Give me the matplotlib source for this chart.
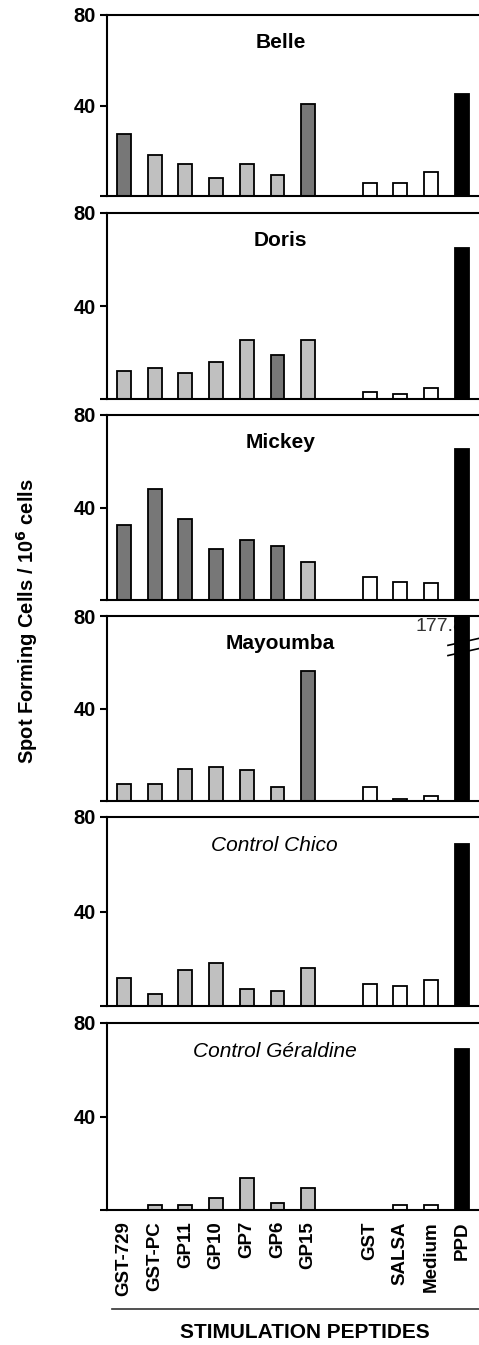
import matplotlib.pyplot as plt
from matplotlib.lines import Line2D

plt.rcParams['font.family'] = ['Liberation Sans', 'DejaVu Sans']

peptides = ['GST-729', 'GST-PC', 'GP11', 'GP10', 'GP7', 'GP6', 'GP15',
            'GST', 'SALSA', 'Medium', 'PPD']
positions = [0, 1, 2, 3, 4, 5, 6, 8, 9, 10, 11]

titles = ['Belle', 'Doris', 'Mickey', 'Mayoumba', 'Control Chico', 'Control Géraldine']

belle = [27.2, 18.0, 14.3, 7.8, 14.3, 9.4, 40.6, 5.7, 5.7, 10.7, 45.0]
doris = [11.9, 13.3, 11.2, 15.9, 25.2, 18.9, 25.2, 2.9, 2.2, 4.7, 65.1]
mickey = [32.3, 47.8, 35.2, 21.9, 25.9, 23.2, 16.3, 9.8, 7.8, 7.2, 65.3]
mayoumba = [7.2, 7.2, 13.8, 14.7, 13.3, 6.2, 56.2, 6.2, 0.7, 2.2, 177.8]
chico = [11.9, 5.1, 15.4, 18.1, 7.2, 6.4, 16.1, 9.2, 8.6, 11.2, 68.6]
geraldine = [0, 2.3, 2.3, 5.0, 13.5, 3.0, 9.3, 0, 2.3, 2.3, 69.0]

# 'd' = reactive (dark), 'l' = non reactive (light), 'w' = control, 'k' = PPD
belle_c = ['d', 'l', 'l', 'l', 'l', 'l', 'd', 'w', 'w', 'w', 'k']
doris_c = ['l', 'l', 'l', 'l', 'l', 'd', 'l', 'w', 'w', 'w', 'k']
mickey_c = ['d', 'd', 'd', 'd', 'd', 'd', 'l', 'w', 'w', 'w', 'k']
mayoumba_c = ['l', 'l', 'l', 'l', 'l', 'l', 'd', 'w', 'w', 'w', 'k']
chico_c = ['l', 'l', 'l', 'l', 'l', 'l', 'l', 'w', 'w', 'w', 'k']
geraldine_c = ['l', 'l', 'l', 'l', 'l', 'l', 'l', 'w', 'w', 'w', 'k']

palette = {'d': '#777777', 'l': '#c0c0c0', 'w': 'white', 'k': 'black'}

values = [belle, doris, mickey, mayoumba, chico, geraldine]
shades = [belle_c, doris_c, mickey_c, mayoumba_c, chico_c, geraldine_c]

W, H = 479, 1345
panels_px = [(15, 196), (213, 399), (415, 600), (616, 801), (817, 1006), (1023, 1210)]

fig = plt.figure(figsize=(W / 100, H / 100), dpi=100)

for i, (top, bot) in enumerate(panels_px):
    ax = fig.add_axes([107 / W, 1 - bot / H, 1 - 107 / W, (bot - top) / H])
    cols = [palette[c] for c in shades[i]]
    ax.bar(positions, values[i], width=0.45, color=cols, edgecolor='black',
           linewidth=1.3, zorder=2)
    ax.set_xlim(-0.55, 11.56)
    ax.set_ylim(0, 80)
    ax.set_yticks([0, 40, 80])
    ax.set_yticklabels(['', '40', '80'], fontsize=14.5, fontweight='bold')
    ax.tick_params(axis='y', direction='out', length=5, width=1.5, pad=3)
    ax.spines['right'].set_visible(False)
    for s in ['left', 'top', 'bottom']:
        ax.spines[s].set_linewidth(1.5)
    ax.set_xticks(positions)
    if i == len(panels_px) - 1:
        ax.set_xticklabels(peptides, rotation=90, fontsize=13.5, fontweight='bold')
        ax.tick_params(axis='x', length=0, pad=8)
    else:
        ax.set_xticklabels([])
        ax.tick_params(axis='x', length=0)
    if i < 4:
        ax.text(5.1, 68, titles[i], ha='center', va='center', fontsize=15,
                fontweight='bold')
    else:
        ax.text(4.9, 68, titles[i], ha='center', va='center', fontsize=15,
                style='italic')
    if titles[i] == 'Mayoumba':
        ax.text(11.1, 75.5, '177.8', ha='right', va='center', fontsize=14,
                color='#333333', zorder=1)
        for yb in [68.8, 64.4]:
            ax.plot([10.55, 11.55], [yb - 1.5, yb + 1.5], color='black',
                    lw=1.2, zorder=3, clip_on=False)

fig.text(27 / W, 1 - 621 / H, 'Spot Forming Cells / 10$^{\\mathbf{6}}$ cells',
         rotation=90, ha='center', va='center', fontsize=14.5, fontweight='bold')
fig.add_artist(Line2D([112 / W, 1.0], [1 - 1309 / H, 1 - 1309 / H],
                      color='#333333', lw=1.2))
fig.text(305 / W, 1 - 1333 / H, 'STIMULATION PEPTIDES', ha='center', va='center',
         fontsize=15, fontweight='bold')

fig.savefig('out.png', dpi=100)
